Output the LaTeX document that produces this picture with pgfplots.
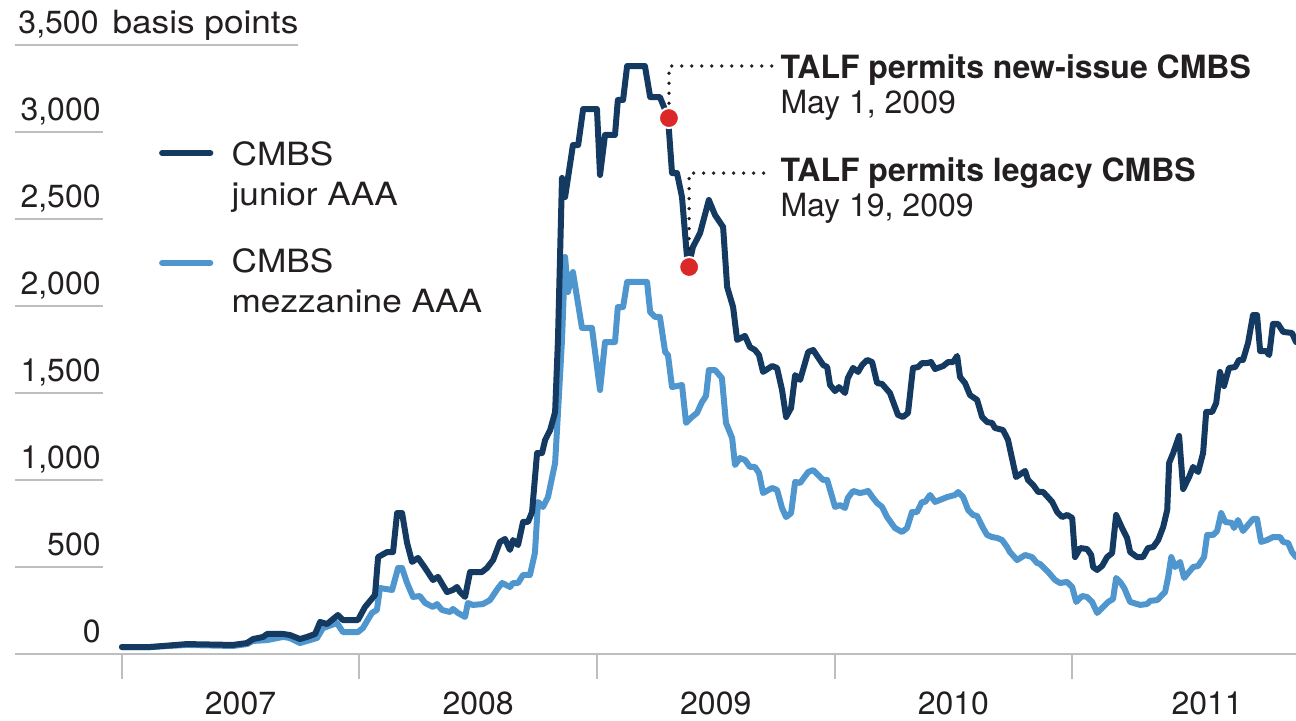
\documentclass[border=0pt]{standalone}
\usepackage{pgfplots}
\usepackage{pgfplotstable}
\pgfplotsset{compat=1.18}
\usepackage{fontspec}
\setmainfont{TeX Gyre Heros}
\newfontfamily\widefont{TeX Gyre Heros}[FakeStretch=1.1]
\definecolor{junior}{RGB}{20,58,98}
\definecolor{mezz}{RGB}{79,150,206}
\definecolor{dotred}{RGB}{218,41,40}
\definecolor{axisgray}{RGB}{188,190,192}
\definecolor{txt}{RGB}{35,31,32}

\pgfplotstableread{
x y
2007.001 40
2007.119 40
2007.275 57
2007.468 52
2007.527 63
2007.553 86
2007.595 98
2007.612 115
2007.679 115
2007.708 109
2007.750 86
2007.780 98
2007.814 115
2007.835 184
2007.864 172
2007.910 224
2007.931 195
2007.994 195
2008.024 270
2008.066 339
2008.079 557
2008.117 586
2008.142 586
2008.159 810
2008.180 810
2008.201 638
2008.222 529
2008.247 552
2008.277 494
2008.310 425
2008.331 443
2008.369 356
2008.394 368
2008.411 385
2008.424 356
2008.445 328
2008.466 471
2008.516 471
2008.537 494
2008.563 540
2008.592 644
2008.613 661
2008.634 598
2008.647 655
2008.668 626
2008.689 759
2008.710 759
2008.727 816
2008.748 1155
2008.769 1155
2008.782 1230
2008.803 1287
2008.815 1345
2008.824 1391
2008.836 1805
2008.853 2736
2008.866 2626
2008.899 2925
2008.921 2925
2008.942 3132
2009.000 3132
2009.013 2753
2009.034 2983
2009.076 2983
2009.088 3184
2009.110 3184
2009.127 3379
2009.202 3379
2009.224 3201
2009.265 3201
2009.299 3086
2009.316 2764
2009.337 2764
2009.358 2626
2009.379 2282
2009.388 2241
2009.404 2339
2009.434 2419
2009.471 2609
2009.497 2523
2009.531 2454
2009.548 2109
2009.573 1994
2009.590 1805
2009.623 1828
2009.644 1764
2009.665 1747
2009.682 1718
2009.699 1621
2009.737 1655
2009.758 1644
2009.779 1517
2009.796 1362
2009.817 1414
2009.834 1603
2009.855 1575
2009.889 1736
2009.910 1747
2009.952 1661
2009.969 1649
2009.981 1546
2010.002 1511
2010.019 1534
2010.044 1500
2010.056 1586
2010.078 1644
2010.099 1621
2010.116 1661
2010.137 1690
2010.158 1678
2010.179 1557
2010.200 1552
2010.233 1500
2010.267 1374
2010.288 1362
2010.309 1385
2010.330 1644
2010.352 1649
2010.368 1672
2010.390 1672
2010.406 1678
2010.423 1638
2010.457 1655
2010.478 1678
2010.499 1678
2010.516 1713
2010.528 1592
2010.549 1557
2010.570 1488
2010.600 1460
2010.621 1362
2010.642 1333
2010.663 1328
2010.675 1299
2010.709 1287
2010.730 1230
2010.751 1098
2010.764 1017
2010.802 1052
2010.814 1000
2010.836 971
2010.857 931
2010.878 931
2010.916 874
2010.937 816
2010.958 787
2010.979 799
2011.000 782
2011.012 557
2011.034 609
2011.063 603
2011.080 569
2011.088 500
2011.105 483
2011.126 506
2011.147 557
2011.168 580
2011.185 799
2011.210 724
2011.231 667
2011.244 586
2011.273 557
2011.298 557
2011.319 609
2011.341 615
2011.362 655
2011.383 730
2011.400 828
2011.408 1098
2011.425 1155
2011.450 1253
2011.467 948
2011.492 1017
2011.509 1075
2011.530 1046
2011.551 1155
2011.564 1391
2011.589 1391
2011.606 1442
2011.622 1621
2011.639 1540
2011.660 1644
2011.686 1649
2011.702 1690
2011.719 1690
2011.740 1787
2011.761 1948
2011.778 1948
2011.791 1741
2011.816 1741
2011.829 1718
2011.845 1897
2011.866 1897
2011.888 1851
2011.925 1845
2011.942 1793
}\juniordata

\pgfplotstableread{
x y
2007.001 40
2007.119 40
2007.275 52
2007.468 46
2007.527 57
2007.553 75
2007.612 80
2007.679 98
2007.708 92
2007.750 63
2007.780 75
2007.822 92
2007.847 149
2007.906 178
2007.931 126
2007.994 126
2008.015 149
2008.053 236
2008.074 253
2008.087 379
2008.138 368
2008.163 494
2008.180 494
2008.201 408
2008.226 328
2008.255 333
2008.277 293
2008.310 270
2008.327 287
2008.348 253
2008.382 241
2008.394 259
2008.415 236
2008.445 213
2008.457 293
2008.478 282
2008.520 287
2008.550 310
2008.584 379
2008.601 408
2008.634 385
2008.647 408
2008.668 408
2008.689 454
2008.718 454
2008.739 580
2008.752 874
2008.773 845
2008.794 902
2008.824 1098
2008.836 1385
2008.853 1805
2008.866 2282
2008.878 2080
2008.899 2195
2008.937 1874
2008.979 1874
2009.013 1517
2009.034 1793
2009.076 1793
2009.088 1994
2009.110 1994
2009.127 2138
2009.211 2138
2009.224 1965
2009.245 1937
2009.265 1937
2009.287 1736
2009.299 1718
2009.316 1534
2009.358 1546
2009.375 1328
2009.400 1362
2009.421 1385
2009.442 1448
2009.459 1483
2009.471 1632
2009.497 1632
2009.526 1586
2009.543 1328
2009.569 1241
2009.581 1086
2009.602 1126
2009.623 1115
2009.644 1075
2009.665 1075
2009.682 1040
2009.699 925
2009.737 954
2009.758 943
2009.779 839
2009.796 787
2009.817 810
2009.834 989
2009.855 983
2009.889 1046
2009.910 1057
2009.952 1000
2009.969 1000
2009.990 902
2010.002 845
2010.023 856
2010.044 839
2010.056 897
2010.078 937
2010.107 925
2010.128 931
2010.141 937
2010.162 897
2010.179 868
2010.200 845
2010.221 787
2010.254 724
2010.284 701
2010.305 724
2010.326 816
2010.347 816
2010.368 874
2010.381 874
2010.402 914
2010.423 874
2010.474 902
2010.507 914
2010.520 931
2010.541 902
2010.562 828
2010.583 799
2010.600 793
2010.625 724
2010.642 684
2010.663 672
2010.684 667
2010.705 655
2010.726 615
2010.738 586
2010.768 540
2010.802 569
2010.831 557
2010.852 523
2010.865 517
2010.899 471
2010.928 425
2010.949 408
2010.979 414
2011.000 385
2011.017 299
2011.042 333
2011.063 328
2011.084 299
2011.105 236
2011.130 270
2011.151 299
2011.172 316
2011.185 437
2011.202 414
2011.219 379
2011.244 299
2011.286 282
2011.315 287
2011.328 305
2011.358 310
2011.391 356
2011.404 443
2011.417 557
2011.433 500
2011.454 529
2011.471 437
2011.509 500
2011.530 506
2011.555 557
2011.568 684
2011.593 684
2011.610 707
2011.627 810
2011.644 759
2011.673 753
2011.681 724
2011.698 770
2011.719 707
2011.761 776
2011.778 776
2011.795 644
2011.820 655
2011.845 672
2011.875 672
2011.888 644
2011.909 638
2011.925 586
2011.942 557
}\mezzdata

\begin{document}
\begin{tikzpicture}
\path[use as bounding box] (-7.5pt,-33.5pt) rectangle (640.5pt,327pt);
\begin{axis}[
  scale only axis, width=640.5pt, height=304.5pt,
  xmin=2006.551, xmax=2011.942, ymin=0, ymax=3500,
  clip=false,
  axis x line*=bottom, axis y line=none,
  x axis line style={draw=axisgray, line width=1pt, -},
  xtick={2007,2008,2009,2010,2011}, xticklabels={},
  major tick length=12.5pt, tick align=outside,
  tick style={draw=axisgray, line width=1pt},
  ytick=\empty,
  font=\fontsize{16}{20}\selectfont,
]
% y labels with short rules
\draw[axisgray, line width=1pt] (axis cs:2006.551,500) -- (axis cs:2006.92,500);
\draw[axisgray, line width=1pt] (axis cs:2006.551,1000) -- (axis cs:2006.92,1000);
\draw[axisgray, line width=1pt] (axis cs:2006.551,1500) -- (axis cs:2006.92,1500);
\draw[axisgray, line width=1pt] (axis cs:2006.551,2000) -- (axis cs:2006.92,2000);
\draw[axisgray, line width=1pt] (axis cs:2006.551,2500) -- (axis cs:2006.92,2500);
\draw[axisgray, line width=1pt] (axis cs:2006.551,3000) -- (axis cs:2006.92,3000);
\draw[axisgray, line width=1pt] (axis cs:2006.551,3500) -- (axis cs:2007.742,3500);
\node[anchor=base east, text=txt, yshift=5.5pt, inner sep=0pt] at (axis cs:2006.913,0) {0};
\node[anchor=base east, text=txt, yshift=5.5pt, inner sep=0pt] at (axis cs:2006.913,500) {500};
\node[anchor=base east, text=txt, yshift=5.5pt, inner sep=0pt] at (axis cs:2006.913,1000) {1,000};
\node[anchor=base east, text=txt, yshift=5.5pt, inner sep=0pt] at (axis cs:2006.913,1500) {1,500};
\node[anchor=base east, text=txt, yshift=5.5pt, inner sep=0pt] at (axis cs:2006.913,2000) {2,000};
\node[anchor=base east, text=txt, yshift=5.5pt, inner sep=0pt] at (axis cs:2006.913,2500) {2,500};
\node[anchor=base east, text=txt, yshift=5.5pt, inner sep=0pt] at (axis cs:2006.913,3000) {3,000};
\node[anchor=base west, text=txt, yshift=5.5pt, inner sep=0pt] at (axis cs:2006.564,3500) {3,500\hspace{7pt}{\widefont basis points}};
% year labels
\node[anchor=base, text=txt, yshift=-30.5pt, inner sep=0pt] at (axis cs:2007.5,0) {2007};
\node[anchor=base, text=txt, yshift=-30.5pt, inner sep=0pt] at (axis cs:2008.5,0) {2008};
\node[anchor=base, text=txt, yshift=-30.5pt, inner sep=0pt] at (axis cs:2009.5,0) {2009};
\node[anchor=base, text=txt, yshift=-30.5pt, inner sep=0pt] at (axis cs:2010.5,0) {2010};
\node[anchor=base, text=txt, yshift=-30.5pt, inner sep=0pt] at (axis cs:2011.568,0) {2011};

% series
\addplot[mezz, line width=3pt, line join=round, line cap=round] table[x=x,y=y] {\mezzdata};
\addplot[junior, line width=3pt, line join=round, line cap=round] table[x=x,y=y] {\juniordata};

% legend
\draw[junior, line width=3pt, line cap=round] (axis cs:2007.170,2879) -- (axis cs:2007.373,2879);
\draw[mezz, line width=3pt, line cap=round] (axis cs:2007.170,2247) -- (axis cs:2007.373,2247);
\node[anchor=base west, text=txt, inner sep=0pt, font=\fontsize{16}{20}\widefont] at (axis cs:2007.461,2805) {CMBS};
\node[anchor=base west, text=txt, inner sep=0pt, font=\fontsize{16}{20}\widefont] at (axis cs:2007.461,2575) {junior AAA};
\node[anchor=base west, text=txt, inner sep=0pt, font=\fontsize{16}{20}\widefont] at (axis cs:2007.461,2190) {CMBS};
\node[anchor=base west, text=txt, inner sep=0pt, font=\fontsize{16}{20}\widefont] at (axis cs:2007.461,1960) {mezzanine AAA};

% annotations
\draw[txt, line width=1.9pt, line cap=round, dash pattern=on 0pt off 5pt] (axis cs:2009.303,3165) -- (axis cs:2009.303,3379) -- (axis cs:2009.742,3379);
\draw[txt, line width=1.9pt, line cap=round, dash pattern=on 0pt off 5pt] (axis cs:2009.388,2330) -- (axis cs:2009.388,2764) -- (axis cs:2009.742,2764);
\node[anchor=base west, text=txt, inner sep=0pt, font=\fontsize{16}{20}\selectfont\bfseries] at (axis cs:2009.771,3305) {TALF permits new-issue CMBS};
\node[anchor=base west, text=txt, inner sep=0pt] at (axis cs:2009.771,3109) {May 1, 2009};
\node[anchor=base west, text=txt, inner sep=0pt, font=\fontsize{16}{20}\selectfont\bfseries] at (axis cs:2009.771,2713) {TALF permits legacy CMBS};
\node[anchor=base west, text=txt, inner sep=0pt] at (axis cs:2009.771,2517) {May 19, 2009};

\addplot[only marks, mark=*, mark size=5pt, mark options={fill=dotred, draw=white, line width=1pt}] coordinates {(2009.303,3080) (2009.388,2224)};
\end{axis}
\end{tikzpicture}
\end{document}
